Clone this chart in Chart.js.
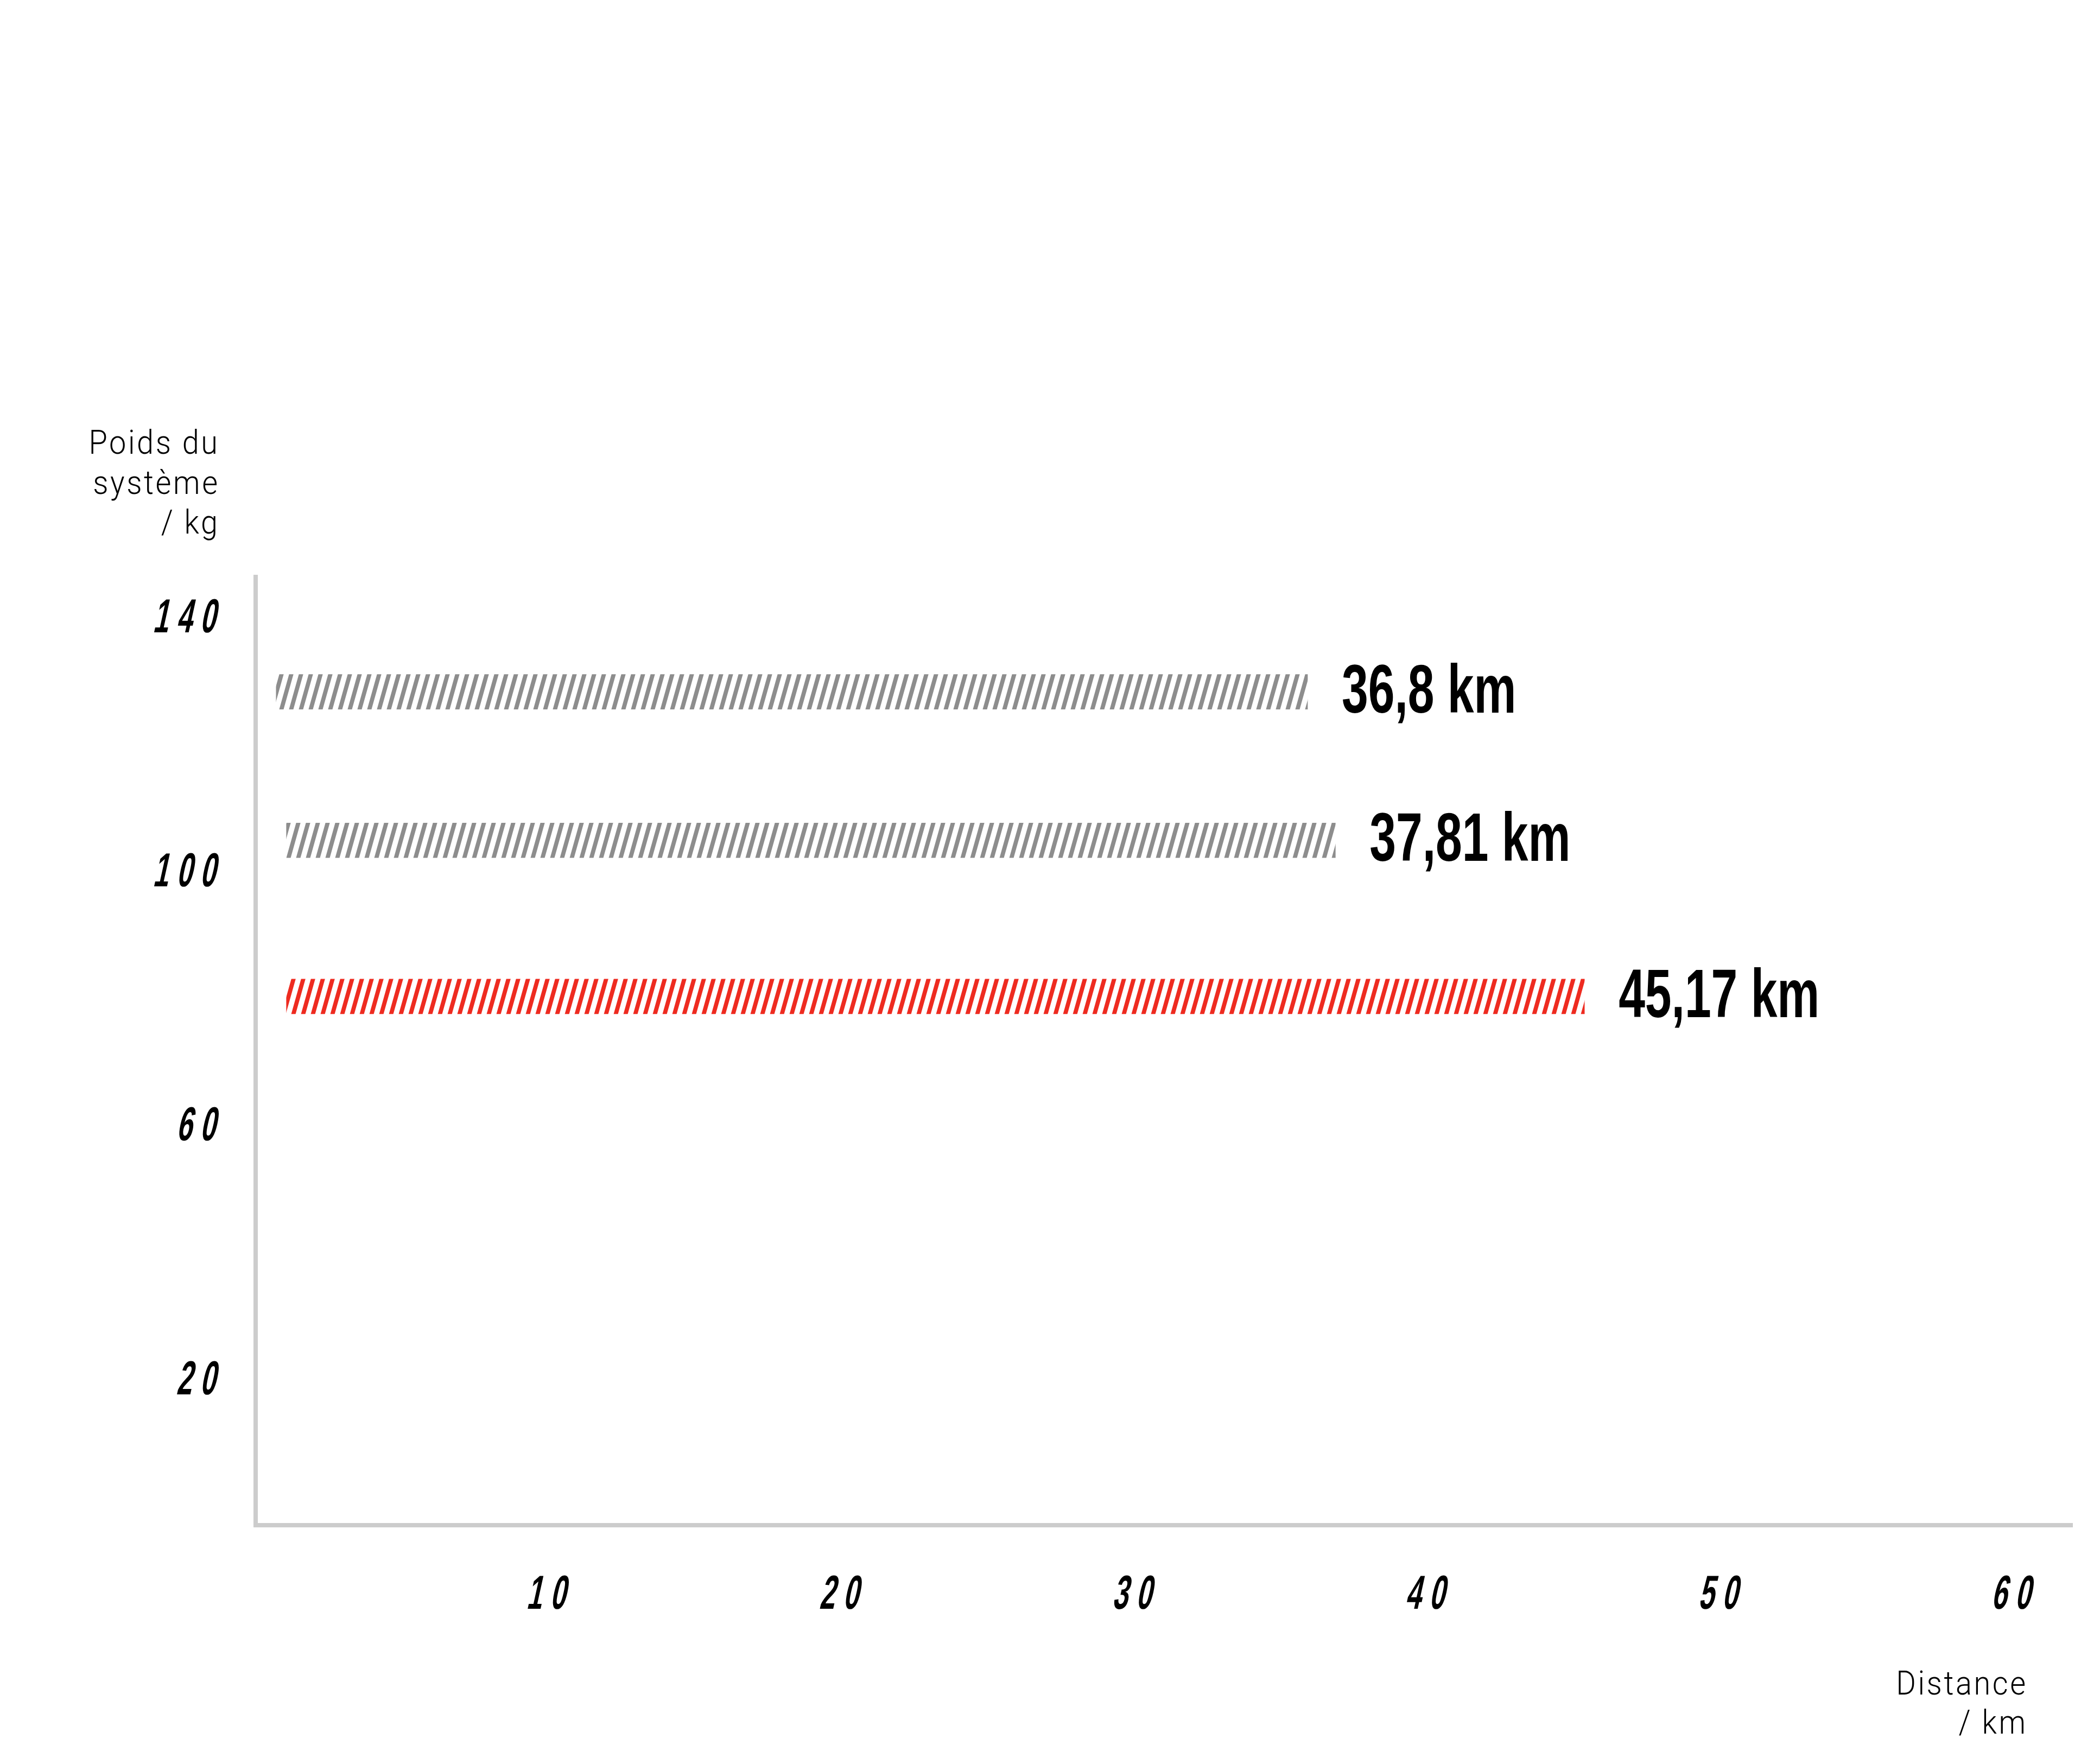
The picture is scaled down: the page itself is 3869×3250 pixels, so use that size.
<!DOCTYPE html>
<html>
<head>
<meta charset="utf-8">
<script src="https://cdn.jsdelivr.net/npm/chart.js@4.4.1/dist/chart.umd.min.js"></script>
<style>
html, body { margin: 0; padding: 0; background: #fff; }
canvas { display: block; }
</style>
</head>
<body>
<canvas id="distanceChart" width="3869" height="3250"></canvas>
<script>
// values
const systemWeights = [128, 104.6, 80];      // kg, where each bar sits on the y axis
const distStart = [0.7, 1.05, 1.05];         // km
const distEnd = [35.9, 36.85, 45.35];        // km
const distLabels = ['36,8 km', '37,81 km', '45,17 km'];
const barColors = ['#8d8d8d', '#8d8d8d', '#ee2b20'];
const yTicks = [20, 60, 100, 140];
const xTicks = [10, 20, 30, 40, 50, 60];
const yTitle = ['Poids du', 'système', '/ kg'];
const xTitle = ['Distance', '/ km'];

const TICK_FONT = 'bold 88px "Liberation Sans", Arial, sans-serif';
const VALUE_FONT = 'bold 126px "Liberation Sans", Arial, sans-serif';
const TITLE_FONT = '300 62px Roboto, "Open Sans", Lato, sans-serif';

var ctx0 = document.getElementById('distanceChart').getContext('2d');

// diagonal stripes "////", period 18px, repeats every 64px in height
makeHatch = (color) => {
    let c = document.createElement('canvas');
    c.width = 18;
    c.height = 64;
    let g = c.getContext('2d');
    g.fillStyle = color;
    for (let k = -1; k <= 1; k++) {
        let o = k * 18;
        g.beginPath();
        g.moveTo(o, 64);
        g.lineTo(o + 8, 64);
        g.lineTo(o + 26, 0);
        g.lineTo(o + 18, 0);
        g.closePath();
        g.fill();
    }
    return ctx0.createPattern(c, 'repeat');
};

drawText = (ctx, text, x, y, o) => {
    ctx.save();
    ctx.font = o.font;
    ctx.fillStyle = o.color || '#000';
    ctx.letterSpacing = (o.spacing || 0) + 'px';
    ctx.textAlign = 'left';
    ctx.textBaseline = 'alphabetic';
    let w = ctx.measureText(text).width - (o.spacing || 0);
    let sx = o.sx || 1;
    ctx.translate(x, y);
    ctx.transform(sx, 0, -(o.skew || 0), 1, 0, 0);
    let off = o.align === 'right' ? -w : (o.align === 'center' ? -w / 2 : 0);
    ctx.fillText(text, off, 0);
    ctx.restore();
};

var textPlugin = {
    id: 'textPlugin',
    afterDraw: (chart) => {
        let ctx = chart.ctx;
        let xs = chart.scales.x, ys = chart.scales.y;
        // y tick labels
        yTicks.forEach(v => {
            drawText(ctx, String(v), 396, ys.getPixelForValue(v) + 31,
                { font: TICK_FONT, sx: 0.58, skew: 0.22, spacing: 26, align: 'right' });
        });
        // x tick labels
        xTicks.forEach(v => {
            drawText(ctx, String(v), xs.getPixelForValue(v) - 6, xs.top + 154,
                { font: TICK_FONT, sx: 0.58, skew: 0.22, spacing: 26, align: 'center' });
        });
        // distance labels next to each bar
        let meta = chart.getDatasetMeta(0);
        meta.data.forEach((bar, i) => {
            let end = Math.max(bar.x, bar.base);
            drawText(ctx, distLabels[i], end + 63, bar.y + 38,
                { font: VALUE_FONT, sx: 0.695 });
        });
        // axis titles
        yTitle.forEach((t, i) => {
            drawText(ctx, t, 401, 836 + i * 73.5, { font: TITLE_FONT, sx: 0.9, spacing: 4, align: 'right' });
        });
        xTitle.forEach((t, i) => {
            drawText(ctx, t, 3732, 3122 + i * 72, { font: TITLE_FONT, sx: 0.9, spacing: 4, align: 'right' });
        });
    }
};

var distanceChart = new Chart(ctx0, {
    type: 'bar',
    data: {
        datasets: [{
            data: systemWeights.map((w, i) => ({ y: w, x: [distStart[i], distEnd[i]] })),
            backgroundColor: barColors.map(c => makeHatch(c)),
            borderWidth: 0,
            barThickness: 64
        }]
    },
    options: {
        indexAxis: 'y',
        responsive: false,
        devicePixelRatio: 1,
        animation: false,
        layout: { padding: { top: 1063, right: 51, left: 0, bottom: 0 } },
        plugins: {
            legend: { display: false },
            tooltip: { enabled: false }
        },
        scales: {
            x: {
                type: 'linear',
                position: 'bottom',
                min: 0,
                max: 62,
                grid: { display: false },
                border: { display: true, color: '#cccccc', width: 8 },
                ticks: { display: false },
                afterBuildTicks: s => { s.ticks = xTicks.map(v => ({ value: v })); },
                afterFit: s => { s.height = 440; }
            },
            y: {
                type: 'linear',
                position: 'left',
                offset: false,
                min: -3.3,
                max: 146.1,
                grid: { display: false },
                border: { display: true, color: '#cccccc', width: 8 },
                ticks: { display: false },
                afterBuildTicks: s => { s.ticks = yTicks.map(v => ({ value: v })); },
                afterFit: s => { s.width = 471; }
            }
        }
    },
    plugins: [textPlugin]
});
</script>
</body>
</html>
